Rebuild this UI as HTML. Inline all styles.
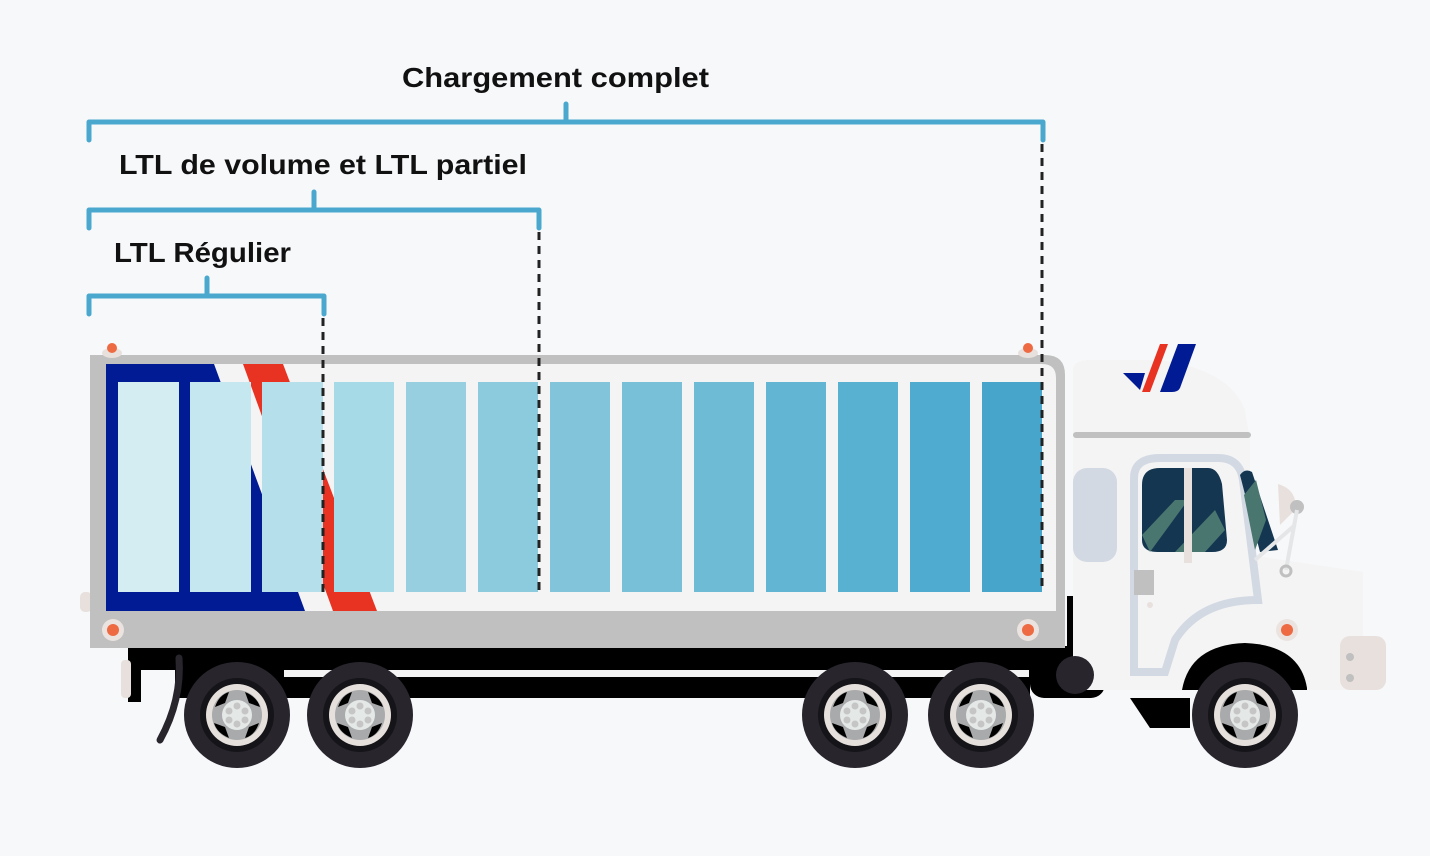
<!DOCTYPE html>
<html><head><meta charset="utf-8"><style>
html,body{margin:0;padding:0;background:#f7f8fa;}
svg{display:block;}
text{font-family:"Liberation Sans",sans-serif;font-weight:bold;fill:#111;}
</style></head><body>
<svg width="1430" height="856" viewBox="0 0 1430 856" xmlns="http://www.w3.org/2000/svg">
<rect width="1430" height="856" fill="#f7f8fa"/>
<!-- labels -->
<text x="402" y="87" font-size="28" textLength="307" lengthAdjust="spacingAndGlyphs">Chargement complet</text>
<text x="119" y="174" font-size="28" textLength="408" lengthAdjust="spacingAndGlyphs">LTL de volume et LTL partiel</text>
<text x="114" y="262" font-size="28" textLength="177" lengthAdjust="spacingAndGlyphs">LTL Régulier</text>
<!-- brackets -->
<g stroke="#4aa8cf" stroke-width="5" fill="none" stroke-linecap="round" stroke-linejoin="round">
<path d="M89,140 V122 H1043 V140 M566,122 V104"/>
<path d="M89,228 V210 H539 V228 M314,210 V192"/>
<path d="M89,314 V296 H324 V314 M207,296 V278"/>
</g>
<!-- chassis -->
<rect x="128" y="646" width="975" height="24" fill="#000"/>
<rect x="128" y="646" width="13" height="56" fill="#000"/>
<rect x="175" y="670" width="855" height="28" fill="#000"/>
<rect x="284" y="670" width="745" height="7" fill="#f4f4f4"/>
<rect x="1030" y="655" width="75" height="43" rx="14" fill="#000"/>
<path d="M179,658 Q182,700 160,740" stroke="#28252d" stroke-width="7" fill="none" stroke-linecap="round"/>
<rect x="121" y="660" width="10" height="38" rx="4" fill="#e8e0dd"/>
<rect x="80" y="592" width="12" height="20" rx="5" fill="#e8e0dd"/>
<!-- cab -->
<path d="M1073,650 V370 Q1073,360 1090,360 H1160 Q1230,370 1245,410 L1250,440 V555 L1363,572 V690 H1073 Z" fill="#f4f4f4"/>
<rect x="1073" y="432" width="178" height="6" rx="3" fill="#bfc0bf"/>
<rect x="1073" y="468" width="44" height="94" rx="14" fill="#d3d9e3"/>
<path d="M1134,672 V478 Q1134,458 1160,458 H1218 Q1240,458 1243,480 L1258,600 Q1200,600 1175,640 L1165,672 Z" fill="none" stroke="#d3d9e3" stroke-width="8"/>
<path d="M1142,485 Q1142,468 1160,468 H1208 Q1218,468 1222,484 L1227,540 Q1227,552 1212,552 H1158 Q1142,552 1142,540 Z" fill="#143650"/>
<path d="M1142,535 L1175,500 L1188,500 L1150,552 Z M1175,552 L1215,510 L1225,530 L1205,552 Z" fill="#4a7670"/>
<rect x="1184" y="468" width="8" height="95" fill="#e8e0dd"/>
<path d="M1240,475 Q1245,468 1252,472 L1278,550 L1260,552 Z" fill="#143650"/>
<path d="M1244,495 L1256,480 L1266,520 L1255,550 Z" fill="#4a7670"/>
<path d="M1278,484 Q1298,490 1295,510 L1280,525 Z" fill="#e8e0dd"/>
<circle cx="1297" cy="507" r="7" fill="#bfc0bf"/>
<path d="M1255,560 L1295,525 M1297,510 L1286,570" stroke="#e4e6e8" stroke-width="4"/>
<circle cx="1286" cy="571" r="5" fill="none" stroke="#bfc0bf" stroke-width="3"/>
<rect x="1134" y="570" width="20" height="25" fill="#bfc0bf"/>
<circle cx="1150" cy="605" r="3" fill="#e8e0dd"/>
<circle cx="1287" cy="630" r="11" fill="#ebe3e0"/><circle cx="1287" cy="630" r="6" fill="#ed6a42"/>
<rect x="1340" y="636" width="46" height="54" rx="10" fill="#e8e0dd"/>
<circle cx="1350" cy="657" r="4" fill="#bfc0bf"/><circle cx="1350" cy="678" r="4" fill="#bfc0bf"/>
<path d="M1130,698 L1190,698 L1190,728 L1150,728 Z" fill="#000"/>
<path d="M1182,690 Q1190,645 1245,643 Q1300,645 1307,688 L1307,690 Z" fill="#000"/>
<!-- logo -->
<path d="M1123,373 H1145 L1140,390 Z" fill="#001b94"/>
<path d="M1160,344 H1168 L1150,392 H1142 Z" fill="#e83222"/>
<path d="M1178,344 H1196 L1180,388 Q1178,392 1172,392 H1160 Z" fill="#001b94"/>
<!-- trailer -->
<path d="M90,355 H1045 Q1065,355 1065,375 V648 H90 Z" fill="#bfc0bf"/>
<path d="M106,364 H1042 Q1056,364 1056,378 V611 H106 Z" fill="#f4f4f4"/>
<path d="M106,364 H214 L305,611 H106 Z" fill="#001b94"/>
<path d="M243,364 H283 L377,611 H333 Z" fill="#e83222"/>
<rect x="1067" y="596" width="6" height="52" fill="#000"/>
<!-- boxes -->
<rect x="118" y="382" width="61" height="210" fill="#d4edf3"/>
<rect x="190" y="382" width="61" height="210" fill="#c5e7f0"/>
<rect x="262" y="382" width="61" height="210" fill="#b5e0eb"/>
<rect x="334" y="382" width="60" height="210" fill="#a6dae7"/>
<rect x="406" y="382" width="60" height="210" fill="#97cfe0"/>
<rect x="478" y="382" width="60" height="210" fill="#8ccadd"/>
<rect x="550" y="382" width="60" height="210" fill="#82c5da"/>
<rect x="622" y="382" width="60" height="210" fill="#78c0d8"/>
<rect x="694" y="382" width="60" height="210" fill="#6dbbd5"/>
<rect x="766" y="382" width="60" height="210" fill="#63b6d3"/>
<rect x="838" y="382" width="60" height="210" fill="#58b1d1"/>
<rect x="910" y="382" width="60" height="210" fill="#4fabcf"/>
<rect x="982" y="382" width="60" height="210" fill="#47a5cc"/>
<!-- lights -->
<ellipse cx="112" cy="353" rx="10" ry="5" fill="#e8e0dd"/><circle cx="112" cy="348" r="5" fill="#ed6a42"/>
<ellipse cx="1028" cy="353" rx="10" ry="5" fill="#e8e0dd"/><circle cx="1028" cy="348" r="5" fill="#ed6a42"/>
<circle cx="113" cy="630" r="11" fill="#ebe3e0"/><circle cx="113" cy="630" r="6" fill="#ed6a42"/>
<circle cx="1028" cy="630" r="11" fill="#ebe3e0"/><circle cx="1028" cy="630" r="6" fill="#ed6a42"/>
<circle cx="1075" cy="675" r="19" fill="#28252d"/>
<!-- dashed lines -->
<g stroke="#222" stroke-width="3" stroke-dasharray="8,6">
<line x1="323" y1="318" x2="323" y2="592"/>
<line x1="539" y1="232" x2="539" y2="592"/>
<line x1="1042" y1="144" x2="1042" y2="592"/>
</g>
<!-- wheels -->
<defs>
<g id="w">
<circle r="53" fill="#28252d"/>
<circle r="37" fill="#151418"/>
<circle r="31" fill="#e6e0dc"/>
<circle r="25" fill="#a9aaac"/>
<g fill="#000"><path d="M-22,-8 Q-18,-20 -8,-23 L-12,-12 Z"/><path d="M8,-23 Q20,-18 23,-8 L12,-12 Z"/><path d="M22,8 Q18,20 8,23 L12,12 Z"/><path d="M-8,23 Q-20,18 -23,8 L-12,12 Z"/></g>
<circle r="15" fill="#e4e8e6"/>
<g fill="#c4c5c4"><circle cx="0" cy="-9" r="3.5"/><circle cx="8" cy="-4" r="3.5"/><circle cx="8" cy="5" r="3.5"/><circle cx="0" cy="9" r="3.5"/><circle cx="-8" cy="5" r="3.5"/><circle cx="-8" cy="-4" r="3.5"/></g>
</g>
</defs>
<use href="#w" x="237" y="715"/>
<use href="#w" x="360" y="715"/>
<use href="#w" x="855" y="715"/>
<use href="#w" x="981" y="715"/>
<use href="#w" x="1245" y="715"/>
</svg>
</body></html>
